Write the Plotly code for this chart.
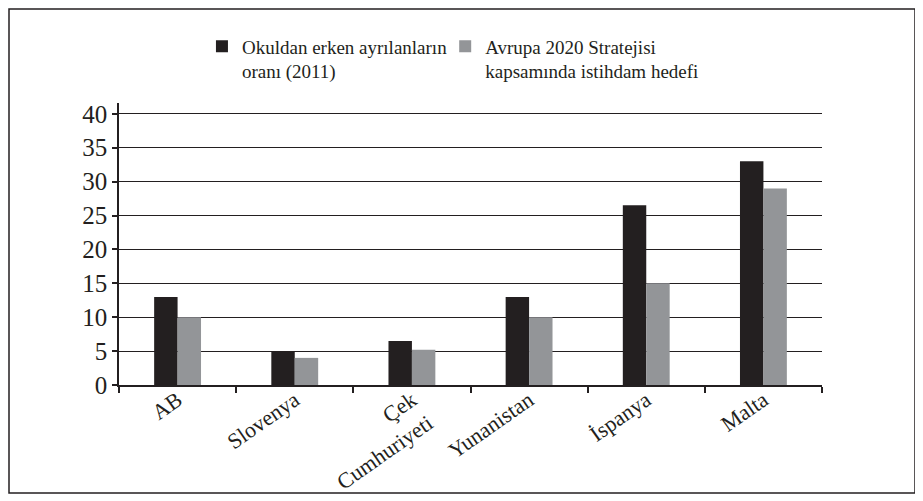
import plotly.graph_objects as go

countries = ["AB", "Slovenya", "Çek<br>Cumhuriyeti", "Yunanistan", "İspanya", "Malta"]
early_leavers_2011 = [13.0, 5.0, 6.5, 13.0, 26.5, 33.0]
target_2020 = [10.0, 4.0, 5.2, 10.0, 15.0, 29.0]
y_ticks = [0, 5, 10, 15, 20, 25, 30, 35, 40]

FONT = "Liberation Serif, Times New Roman, serif"
BLACK = "#231f20"
GREY = "#939598"

fig = go.Figure()
fig.add_trace(go.Bar(x=countries, y=early_leavers_2011, name="Okuldan erken ayrılanların<br>oranı (2011)",
                     marker_color=BLACK, marker_line_width=0, legend="legend"))
fig.add_trace(go.Bar(x=countries, y=target_2020, name="Avrupa 2020 Stratejisi<br>kapsamında istihdam hedefi",
                     marker_color=GREY, marker_line_width=0, legend="legend2"))

legend_style = dict(orientation="h", yanchor="top", xanchor="left", valign="top",
                    font=dict(size=19, family=FONT), bgcolor="rgba(0,0,0,0)")

# the page has an 8px body margin, so the figure is sized to fit the window
fig.update_layout(
    width=915, height=493,
    margin=dict(l=111, r=101, t=95, b=116),
    plot_bgcolor="white", paper_bgcolor="white",
    font=dict(family=FONT, color="#231f20"),
    barmode="group", bargap=0.6, bargroupgap=0,
    legend=dict(x=0.118, y=1.268, **legend_style),
    legend2=dict(x=0.464, y=1.268, **legend_style),
    showlegend=True,
)
fig.update_xaxes(showline=True, linecolor="#231f20", linewidth=1.5, ticks="outside",
                 tickson="boundaries", ticklen=6, tickcolor="#231f20", tickwidth=1.5,
                 tickangle=-35, tickfont=dict(size=22, family=FONT), showgrid=False,
                 automargin=False, ticklabelstandoff=-8)
# axis line runs a little above the 40 gridline, as in the original
fig.update_yaxes(range=[0, 41.6], tickvals=y_ticks, showline=True, linecolor="#231f20", linewidth=1.5,
                 ticks="outside", ticklen=5, tickcolor="#231f20", tickwidth=1.5,
                 tickfont=dict(size=25, family=FONT), showgrid=True, gridcolor="#231f20",
                 gridwidth=1.3, zeroline=False, automargin=False)

# outer frame around the whole figure
fig.add_shape(type="rect", xref="paper", yref="paper",
              x0=(1 - 111) / 703, x1=(907 - 111) / 703,
              y0=(377 - 485) / 282, y1=(377 - 1) / 282,
              line=dict(color="#231f20", width=1.5), fillcolor="rgba(0,0,0,0)", layer="below")

fig.write_html("out.html")
